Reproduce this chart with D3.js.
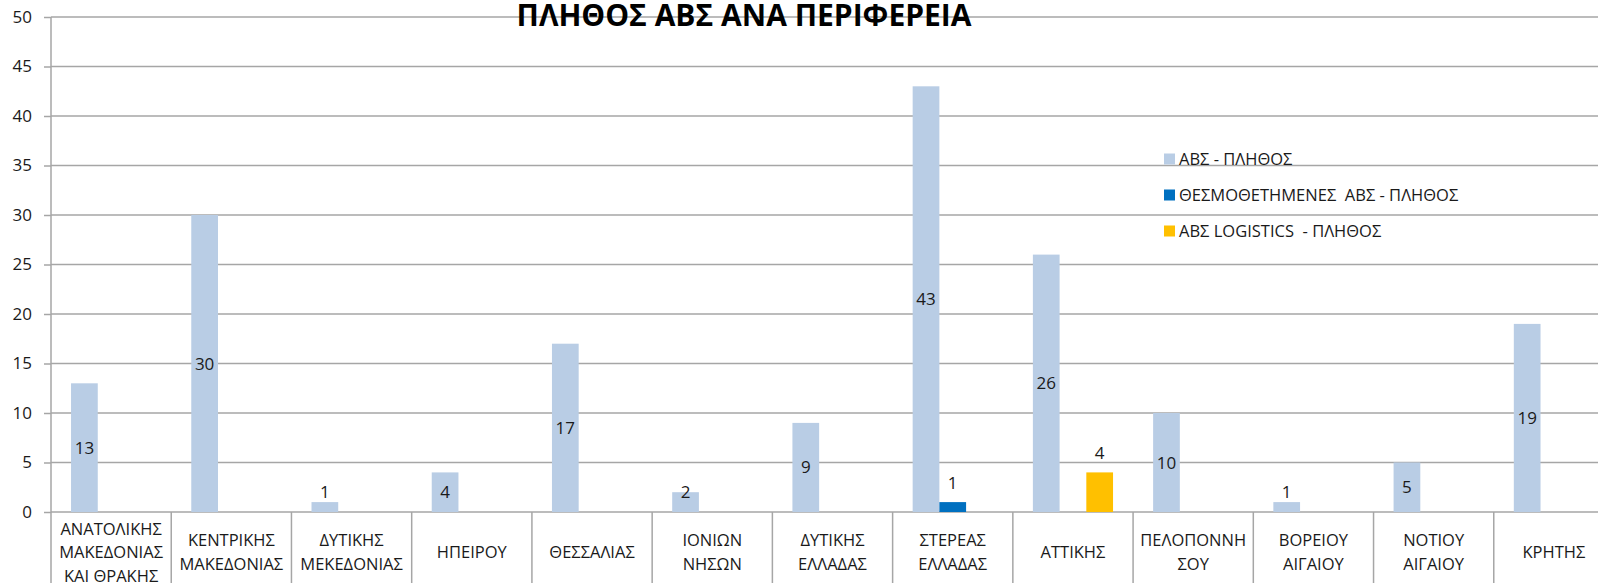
<!DOCTYPE html>
<html>
<head>
<meta charset="utf-8">
<script src="https://cdn.jsdelivr.net/npm/d3@7"></script>
<style>
  body { margin: 0; background: #fff; }
  text { font-family: "Open Sans", "DejaVu Sans", sans-serif; fill: #1a1a1a; }
</style>
</head>
<body>
<svg id="chart" width="1598" height="583"></svg>
<script>
// ***** Data ***** //
var categories = [
    ['ΑΝΑΤΟΛΙΚΗΣ', 'ΜΑΚΕΔΟΝΙΑΣ', 'ΚΑΙ ΘΡΑΚΗΣ'],
    ['ΚΕΝΤΡΙΚΗΣ', 'ΜΑΚΕΔΟΝΙΑΣ'],
    ['ΔΥΤΙΚΗΣ', 'ΜΕΚΕΔΟΝΙΑΣ'],
    ['ΗΠΕΙΡΟΥ'],
    ['ΘΕΣΣΑΛΙΑΣ'],
    ['ΙΟΝΙΩΝ', 'ΝΗΣΩΝ'],
    ['ΔΥΤΙΚΗΣ', 'ΕΛΛΑΔΑΣ'],
    ['ΣΤΕΡΕΑΣ', 'ΕΛΛΑΔΑΣ'],
    ['ΑΤΤΙΚΗΣ'],
    ['ΠΕΛΟΠΟΝΝΗ', 'ΣΟΥ'],
    ['ΒΟΡΕΙΟΥ', 'ΑΙΓΑΙΟΥ'],
    ['ΝΟΤΙΟΥ', 'ΑΙΓΑΙΟΥ'],
    ['ΚΡΗΤΗΣ']
];
var absCount       = [13, 30, 1, 4, 17, 2, 9, 43, 26, 10, 1, 5, 19];
var thesmoCount    = [0, 0, 0, 0, 0, 0, 0, 1, 0, 0, 0, 0, 0];
var logisticsCount = [0, 0, 0, 0, 0, 0, 0, 0, 4, 0, 0, 0, 0];
var seriesNames = ['ΑΒΣ - ΠΛΗΘΟΣ', 'ΘΕΣΜΟΘΕΤΗΜΕΝΕΣ  ΑΒΣ - ΠΛΗΘΟΣ', 'ΑΒΣ LOGISTICS  - ΠΛΗΘΟΣ'];
var seriesColors = ['#b9cde5', '#0070c0', '#ffc000'];
var yTicks = [0, 5, 10, 15, 20, 25, 30, 35, 40, 45, 50];
var title = 'ΠΛΗΘΟΣ ΑΒΣ ΑΝΑ ΠΕΡΙΦΕΡΕΙΑ';

var series = [absCount, thesmoCount, logisticsCount];

// ***** Layout ***** //
var svg = d3.select('#chart'),
    width = +svg.attr('width'),
    height = +svg.attr('height');

var plotLeft = 51, plotRight = 1614, plotTop = 17, plotBottom = 512;
var gridColor = '#a6a6a6';

var x = d3.scaleBand()
    .domain(d3.range(categories.length))
    .range([plotLeft, plotRight])
    .paddingInner(0)
    .paddingOuter(0);

var inner = d3.scaleBand()
    .domain(d3.range(series.length))
    .range([0, x.bandwidth()])
    .paddingOuter(0.75)
    .paddingInner(0);

var y = d3.scaleLinear()
    .domain([0, 50])
    .range([plotBottom, plotTop]);

// ***** Gridlines ***** //
svg.append('g')
    .selectAll('line')
    .data(yTicks)
    .enter()
    .append('line')
    .attr('x1', plotLeft)
    .attr('x2', width)
    .attr('y1', d => y(d))
    .attr('y2', d => y(d))
    .attr('stroke', gridColor)
    .attr('stroke-width', 1.5);

// ***** Title ***** //
svg.append('text')
    .attr('x', 744)
    .attr('y', 26)
    .attr('text-anchor', 'middle')
    .style('font-size', '30px')
    .style('font-weight', 'bold')
    .style('fill', '#000')
    .text(title);

// ***** Y axis ***** //
var yAxis = svg.append('g')
    .attr('transform', 'translate(' + plotLeft + ',0)')
    .call(d3.axisLeft(y).tickValues(yTicks).tickSize(7).tickPadding(12));
yAxis.select('.domain').remove();
yAxis.selectAll('.tick line').attr('stroke', gridColor).attr('stroke-width', 1.5);
yAxis.selectAll('.tick text')
    .style('font-size', '17px')
    .style('font-family', '"Open Sans", sans-serif')
    .attr('fill', '#1a1a1a');

svg.append('line')
    .attr('x1', plotLeft).attr('x2', plotLeft)
    .attr('y1', plotTop).attr('y2', height)
    .attr('stroke', gridColor)
    .attr('stroke-width', 1.5);

// ***** Category separators and labels ***** //
svg.append('g')
    .selectAll('line')
    .data(d3.range(1, categories.length))
    .enter()
    .append('line')
    .attr('x1', d => x(d))
    .attr('x2', d => x(d))
    .attr('y1', plotBottom)
    .attr('y2', height)
    .attr('stroke', gridColor)
    .attr('stroke-width', 1.5);

var lineH = 23.5;
var catLabels = svg.append('g')
    .selectAll('text')
    .data(categories)
    .enter()
    .append('text')
    .attr('text-anchor', 'middle')
    .style('font-size', '16.5px');

catLabels.each(function (lines, i) {
    var t = d3.select(this);
    var cx = x(i) + x.bandwidth() / 2;
    var y0 = 552 - (lines.length - 1) * lineH / 2 + 6;
    lines.forEach((ln, k) => {
        t.append('tspan')
            .attr('x', cx)
            .attr('y', y0 + k * lineH)
            .text(ln);
    });
});

// ***** Bars ***** //
series.forEach((vals, s) => {
    var g = svg.append('g');
    g.selectAll('rect')
        .data(vals)
        .enter()
        .append('rect')
        .attr('x', (d, i) => x(i) + inner(s))
        .attr('width', inner.bandwidth())
        .attr('y', d => y(d))
        .attr('height', d => y(0) - y(d))
        .attr('fill', seriesColors[s]);

    g.selectAll('text')
        .data(vals.map((v, i) => ({ v: v, i: i })).filter(d => d.v > 0))
        .enter()
        .append('text')
        .attr('x', d => x(d.i) + inner(s) + inner.bandwidth() / 2)
        .attr('y', d => {
            var cy = s === 0 ? Math.min(y(d.v / 2), plotBottom - 20) : y(d.v) - 19;
            return cy + 6;
        })
        .attr('text-anchor', 'middle')
        .style('font-size', '17px')
        .text(d => d.v);
});

// ***** Legend ***** //
var legend = svg.append('g')
    .selectAll('g')
    .data(seriesNames)
    .enter()
    .append('g')
    .attr('transform', (d, i) => 'translate(1164,' + (159 + i * 36) + ')');

legend.append('rect')
    .attr('x', 0)
    .attr('y', -5.5)
    .attr('width', 11)
    .attr('height', 11)
    .attr('fill', (d, i) => seriesColors[i]);

legend.append('text')
    .attr('x', 15)
    .attr('y', 6)
    .style('font-size', '16.5px')
    .style('white-space', 'pre')
    .attr('xml:space', 'preserve')
    .text(d => d);
</script>
</body>
</html>
